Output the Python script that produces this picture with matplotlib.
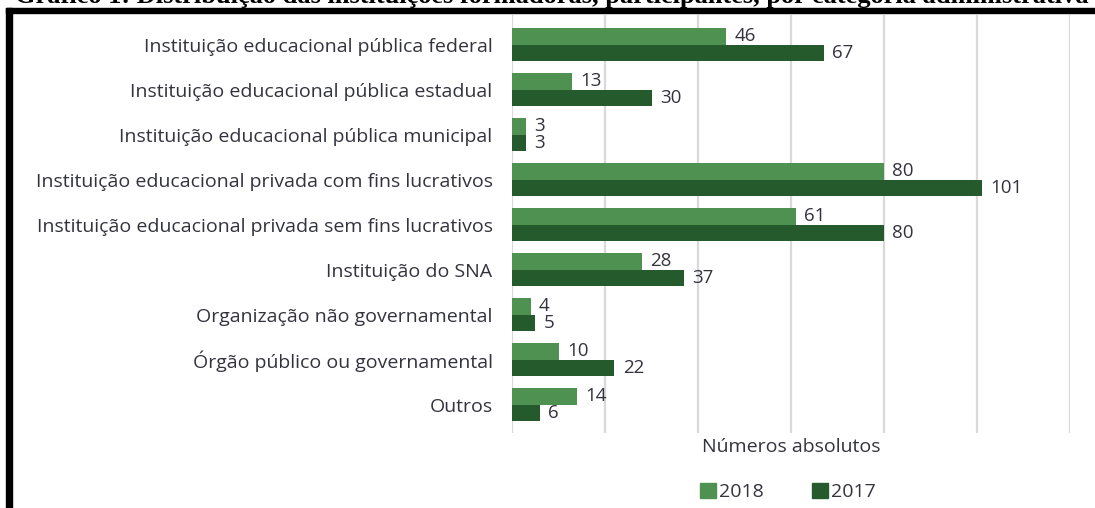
import numpy as np
import matplotlib
matplotlib.use("Agg")
import matplotlib.pyplot as plt
from matplotlib.patches import Rectangle, Patch

categorias = [
    "Instituição educacional pública federal",
    "Instituição educacional pública estadual",
    "Instituição educacional pública municipal",
    "Instituição educacional privada com fins lucrativos",
    "Instituição educacional privada sem fins lucrativos",
    "Instituição do SNA",
    "Organização não governamental",
    "Órgão público ou governamental",
    "Outros",
]
v2018 = [46, 13, 3, 80, 61, 28, 4, 10, 14]
v2017 = [67, 30, 3, 101, 80, 37, 5, 22, 6]

c2018 = "#4f9150"
c2017 = "#245a2c"
txt = "#33333d"
fs = 14

W, H = 1095, 508
fig = plt.figure(figsize=(W / 100, H / 100), dpi=100)
plt.rcParams['font.family'] = ['Open Sans', 'DejaVu Sans']

ax = fig.add_axes([512 / W, 1 - 433 / H, (1070 - 512) / W, (433 - 15) / H])

y = np.arange(len(categorias))
h = 0.367
ax.barh(y - h / 2, v2018, height=h, color=c2018, label="2018", zorder=3)
ax.barh(y + h / 2, v2017, height=h, color=c2017, label="2017", zorder=3)

for i in range(len(categorias)):
    ax.annotate(str(v2018[i]), (v2018[i], y[i] - h / 2), xytext=(6, 0),
                textcoords="offset points", va="center", ha="left",
                fontsize=13.5, color=txt)
    ax.annotate(str(v2017[i]), (v2017[i], y[i] + h / 2), xytext=(6, 0),
                textcoords="offset points", va="center", ha="left",
                fontsize=13.5, color=txt)

ax.set_xlim(0, 120)
ax.set_ylim(8.633, -0.656)
ax.set_xticks(np.arange(0, 121, 20))
ax.set_xticklabels([])
ax.set_yticks(y)
ax.set_yticklabels(categorias, fontsize=fs, color=txt)
ax.tick_params(axis="both", length=0)
ax.tick_params(axis="y", pad=14)
ax.grid(axis="x", color="#d9d9d9", linewidth=1.6, zorder=0)
for s in ax.spines.values():
    s.set_visible(False)

fig.text(791 / W, 1 - 447 / H, "Números absolutos", ha="center", va="center",
         fontsize=fs, color=txt)

handles = [Patch(color=c2018, label="2018"), Patch(color=c2017, label="2017")]
fig.legend(handles=handles, loc="center", bbox_to_anchor=(788 / W, 1 - 492 / H),
           ncol=2, frameon=False, fontsize=fs, handlelength=0.8,
           handleheight=0.8, handletextpad=0.15, columnspacing=2.5,
           labelcolor=txt)

# moldura preta (esquerda e topo)
fig.patches.append(Rectangle((6 / W, 0), 6 / W, 1 - 8 / H, transform=fig.transFigure,
                             color="black", zorder=10))
fig.patches.append(Rectangle((6 / W, 1 - 13 / H), 1, 5 / H, transform=fig.transFigure,
                             color="black", zorder=10))

# titulo cortado no topo, como na imagem original
fig.text(15 / W, 1 - 2.5 / H,
         "Gráfico 1: Distribuição das instituições formadoras, participantes, por categoria administrativa",
         ha="left", va="baseline", fontsize=19, fontweight="bold",
         family="Liberation Serif", color="black")

fig.savefig("out.png", dpi=100)
